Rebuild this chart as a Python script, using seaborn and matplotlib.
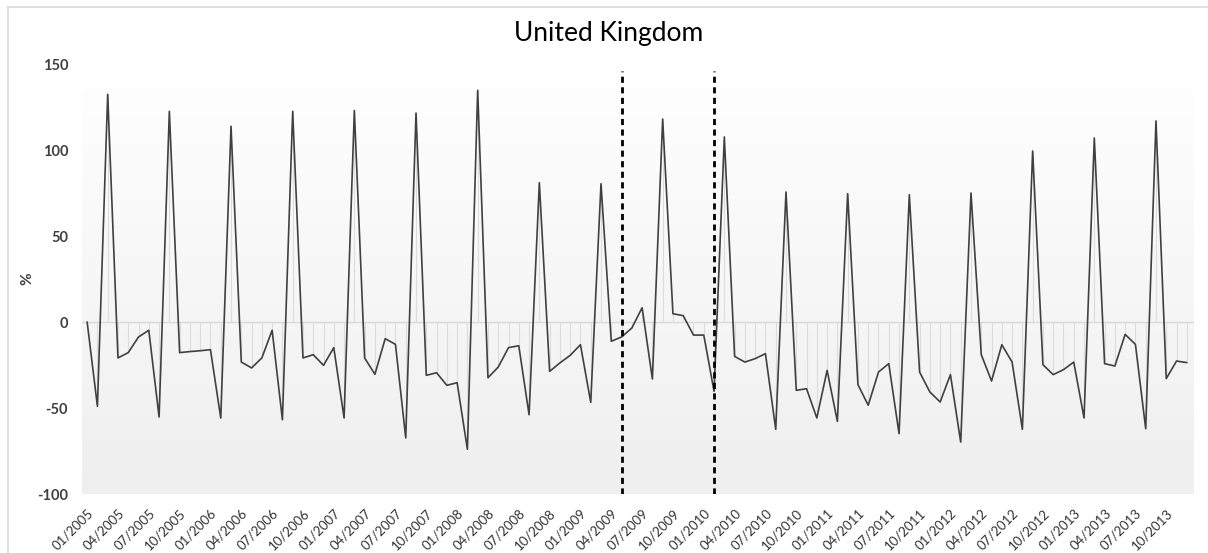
import numpy as np
import pandas as pd
import matplotlib
matplotlib.use("Agg")
import matplotlib.pyplot as plt
import matplotlib.transforms as mtransforms
from matplotlib.colors import LinearSegmentedColormap
from matplotlib.lines import Line2D
import seaborn as sns

## data: monthly change (%), 01/2005 - 12/2013
months = pd.date_range("2005-01-01", "2013-12-01", freq="MS").strftime("%m/%Y").tolist()
values_2005 = [0, -49, 132.4, -20.9, -17.8, -8.7, -4.8, -55.2, 122.5, -17.8, -17.2, -16.7]
values_2006 = [-16.1, -55.8, 113.8, -23.3, -26.7, -20.9, -4.8, -56.8, 122.5, -20.9, -19.0, -25.2]
values_2007 = [-14.9, -55.8, 123.0, -20.9, -30.4, -9.7, -13.0, -67.4, 121.5, -31.0, -29.5, -36.8]
values_2008 = [-35.3, -74.0, 134.7, -32.4, -26.2, -14.9, -13.8, -53.9, 81.0, -28.7, -23.8, -19.4]
values_2009 = [-13.2, -46.7, 80.4, -11.2, -8.7, -3.5, 8.3, -33.1, 118.0, 4.8, 3.7, -7.6]
values_2010 = [-7.6, -40.3, 107.6, -20.0, -23.3, -21.3, -18.4, -62.4, 75.6, -39.7, -38.8, -55.8]
values_2011 = [-28.1, -57.8, 74.6, -36.4, -48.4, -29.1, -24.2, -64.9, 74.0, -29.1, -40.7, -46.5]
values_2012 = [-30.6, -69.8, 75.0, -19.0, -34.3, -13.2, -23.3, -62.4, 99.4, -24.8, -30.6, -27.7]
values_2013 = [-23.3, -55.8, 107.0, -24.2, -25.6, -7.2, -13.0, -62.0, 116.9, -32.9, -22.7, -23.6]
tick_labels = months[::3]
break_months = ["05/2009", "02/2010"]

values = (values_2005 + values_2006 + values_2007 + values_2008 + values_2009
          + values_2010 + values_2011 + values_2012 + values_2013)
df = pd.DataFrame({"month": months, "pos": np.arange(len(months)), "value": values})

sns.set_theme(style="white")
plt.rcParams["font.family"] = ["Lato", "DejaVu Sans"]
plt.rcParams["axes.unicode_minus"] = False

fig = plt.figure(figsize=(12.08, 5.53), dpi=100)
W, H = 1208, 553
ax = fig.add_axes([82 / W, 1 - 494 / H, (1194 - 82) / W, (494 - 64) / H])

# plot area gradient (white -> light grey)
cmap = LinearSegmentedColormap.from_list("bg", ["#ffffff", "#efefef"])
grad = np.linspace(0, 1, 256).reshape(-1, 1)
ax.imshow(grad, extent=[0, 1, 0, 1], transform=ax.transAxes, aspect="auto",
          cmap=cmap, zorder=0, origin="upper")

# zero line and drop lines
ax.axhline(0, color="#d9d9d9", lw=1.0, zorder=1)
ax.vlines(df["pos"], 0, df["value"], color="#dcdcdc", lw=0.8, zorder=1)

sns.lineplot(data=df, x="pos", y="value", color="#404040", lw=1.2, ax=ax, zorder=3)

# structural break markers
for m in break_months:
    ax.vlines(months.index(m), -100, 146, color="black", lw=2.0,
              linestyles=(0, (2.2, 1.6)), zorder=4)

ax.set_xlim(-0.5, len(months) - 0.3)
ax.set_ylim(-100, 150)
ax.set_yticks([-100, -50, 0, 50, 100, 150])
ax.set_xticks(df["pos"][::3])
ax.set_xticklabels(tick_labels, rotation=45, ha="right", va="top",
                   rotation_mode="anchor", fontsize=9.5, color="#333333")
offset = mtransforms.ScaledTranslation(4 / 100, 0, fig.dpi_scale_trans)
for lab in ax.get_xticklabels():
    lab.set_transform(lab.get_transform() + offset)
for lab in ax.get_yticklabels():
    lab.set_fontweight("bold")
    lab.set_color("#404040")
    lab.set_fontsize(10.5)
ax.tick_params(axis="both", length=0)
ax.tick_params(axis="y", pad=10)
ax.tick_params(axis="x", pad=9)
ax.set_xlabel("")
ax.set_ylabel("%", fontsize=11, fontweight="bold", color="#404040", labelpad=2)
for s in ax.spines.values():
    s.set_visible(False)
ax.grid(False)

fig.text(609 / W, 1 - 33 / H, "United Kingdom", ha="center", va="center",
         fontsize=19, color="black")

# chart border
fig.add_artist(Line2D([8 / W, 8 / W], [0, 1 - 7 / H], color="#d9d9d9", lw=1.2))
fig.add_artist(Line2D([8 / W, 1207 / W], [1 - 7 / H, 1 - 7 / H], color="#d9d9d9", lw=1.2))

plt.savefig("out.png", dpi=100)
